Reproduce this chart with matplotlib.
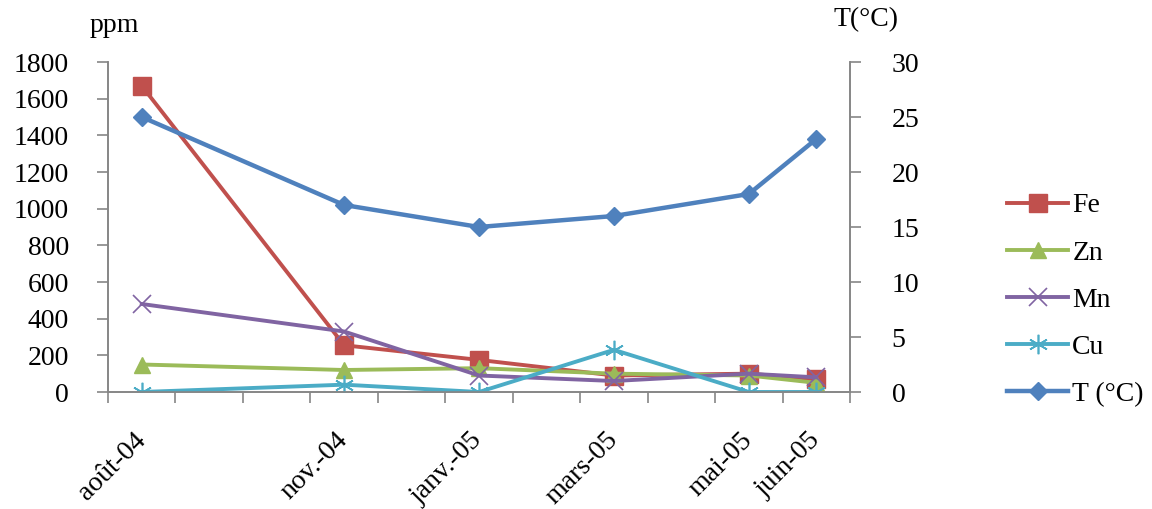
import numpy as np
import pandas as pd
import matplotlib
matplotlib.use("Agg")
import matplotlib.pyplot as plt

plt.rcParams['font.family'] = ['Liberation Serif', 'DejaVu Serif']

# sampling dates and their labels
dates = ["2004-08", "2004-11", "2005-01", "2005-03", "2005-05", "2005-06"]
labels = ["août-04", "nov.-04", "janv.-05", "mars-05", "mai-05", "juin-05"]

# metal concentrations (ppm)
fe = [1670, 255, 175, 90, 100, 70]
zn = [150, 120, 130, 100, 90, 50]
mn = [480, 330, 90, 60, 100, 80]
cu = [0, 40, 0, 230, 0, 0]
# temperature (°C)
temp = [25, 17, 15, 16, 18, 23]

# months since first sample
per = pd.PeriodIndex(dates, freq="M")
x = np.array([(p - per[0]).n for p in per])

fig = plt.figure(figsize=(11.52, 5.09), dpi=100)
ax = fig.add_axes([108/1152, 1-392/509, 742/1152, 330/509])
ax2 = ax.twinx()

fs = 20
gray = "#868686"

lw = 2.8
ax.plot(x, fe, color="#C0504D", lw=lw, marker="s", ms=13, label="Fe", zorder=3)
ax.plot(x, zn, color="#9BBB59", lw=lw, marker="^", ms=12, label="Zn", zorder=3)
ax.plot(x, mn, color="#8064A2", lw=lw, marker="x", ms=13, mew=1.2, label="Mn", zorder=3)
ax.plot(x, cu, color="#4BACC6", lw=lw, marker=(6, 2, 0), ms=14, mew=1.2, label="Cu", zorder=3)
ax2.plot(x, temp, color="#4F81BD", lw=3.2, marker="D", ms=9, label="T (°C)")

ax.set_xlim(-0.5, x[-1] + 0.5)
ax.set_ylim(0, 1800)
ax2.set_ylim(0, 30)
ax.set_yticks(np.arange(0, 1801, 200))
ax2.set_yticks(np.arange(0, 31, 5))

ax.set_xticks(x)
ax.set_xticklabels(labels, rotation=45, ha="right", va="center",
                   rotation_mode="anchor", fontsize=fs)
ax.set_xticks(np.arange(-0.5, x[-1] + 1, 1), minor=True)
ax.tick_params(axis="x", which="major", length=0, pad=32)
ax.tick_params(axis="x", which="minor", length=8, color=gray, width=1.2)
ax.tick_params(axis="y", length=8, color=gray, width=1.2, labelsize=fs, pad=20)
ax2.tick_params(axis="y", length=8, color=gray, width=1.2, labelsize=fs, pad=22)

for a in (ax, ax2):
    a.spines["top"].set_visible(False)
    for s in ("left", "right", "bottom"):
        a.spines[s].set_color(gray)
        a.spines[s].set_linewidth(1.2)

fig.text(90/1152, 1-25/509, "ppm", fontsize=fs, va="center", ha="left")
fig.text(833/1152, 1-20/509, "T(°C)", fontsize=fs, va="center", ha="left")

h1, l1 = ax.get_legend_handles_labels()
h2, l2 = ax2.get_legend_handles_labels()
fig.legend(h1 + h2, l1 + l2, loc="center left", bbox_to_anchor=(982/1152, 1-300/509),
           frameon=False, fontsize=fs, handlelength=2.2, labelspacing=0.78,
           handletextpad=0.15)

fig.savefig("out.png", dpi=100)
